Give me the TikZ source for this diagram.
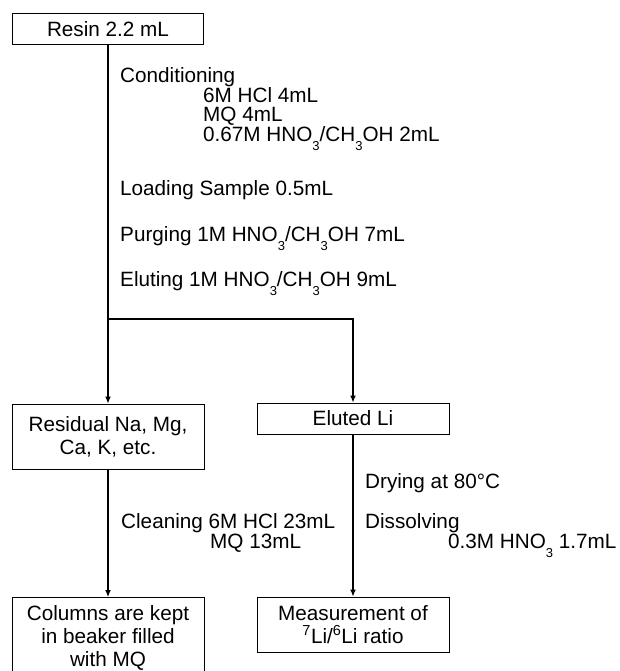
\documentclass[tikz,border=0pt]{standalone}
\usepackage{fontspec}
\setmainfont{Liberation Sans}
\usetikzlibrary{arrows.meta}
\newcommand{\lsub}[1]{\raisebox{-9pt}{\fontsize{13}{13}\selectfont #1}}
\begin{document}
\begin{tikzpicture}[x=1pt,y=-1pt,
  font=\fontsize{20.7}{23}\selectfont,
  box/.style={draw, line width=1pt, inner sep=0pt, align=center},
  lbl/.style={anchor=base west, inner sep=0pt},
  arr/.style={line width=1.2pt, -{Latex[length=7pt,width=6pt]}}]
\useasboundingbox (0,0) rectangle (619,671);
\clip (0,0) rectangle (619,671);
% boxes
\node[box, minimum width=191pt, minimum height=31pt] (resin) at (108,29.5) {Resin 2.2 mL};
\node[box, minimum width=192pt, minimum height=65pt] (residual) at (108,436.5) {Residual Na, Mg,\\Ca, K, etc.};
\node[box, minimum width=192pt, minimum height=31pt] (eluted) at (353,418.5) {Eluted Li};
\node[box, minimum width=192pt, minimum height=55pt] (meas) at (353,624.5) {Measurement of\\\textsuperscript{7}Li/\textsuperscript{6}Li ratio};
\node[box, minimum width=192pt, minimum height=80pt, anchor=north] (cols) at (108,597) {Columns are kept\\in beaker filled\\with MQ};
% connectors
\coordinate (j) at (108,319);
\draw[arr] (resin.south) -- (residual.north);
\draw[arr] (j) -| (eluted.north);
\draw[arr] (residual.south) -- (cols.north);
\draw[arr] (eluted.south) -- (meas.north);
% labels
\node[lbl] (t1) at (120,83) {Conditioning};
\node[lbl] (t2) at (203,102.5) {6M HCl 4mL};
\node[lbl] (t3) at (203,122) {MQ 4mL};
\node[lbl] (t4) at (203,141.5) {0.67M HNO\lsub{3}/CH\lsub{3}OH 2mL};
\node[lbl] (t5) at (120,195) {Loading Sample 0.5mL};
\node[lbl] (t6) at (120,241) {Purging 1M HNO\lsub{3}/CH\lsub{3}OH 7mL};
\node[lbl] (t7) at (120,286.5) {Eluting 1M HNO\lsub{3}/CH\lsub{3}OH 9mL};
\node[lbl] (t8) at (121,528) {Cleaning 6M HCl 23mL};
\node[lbl] (t9) at (210,548) {MQ 13mL};
\node[lbl] (t10) at (365,488) {Drying at 80°C};
\node[lbl] (t11) at (365,528) {Dissolving};
\node[lbl] (t12) at (448,548) {0.3M HNO\lsub{3} 1.7mL};
\end{tikzpicture}
\end{document}
